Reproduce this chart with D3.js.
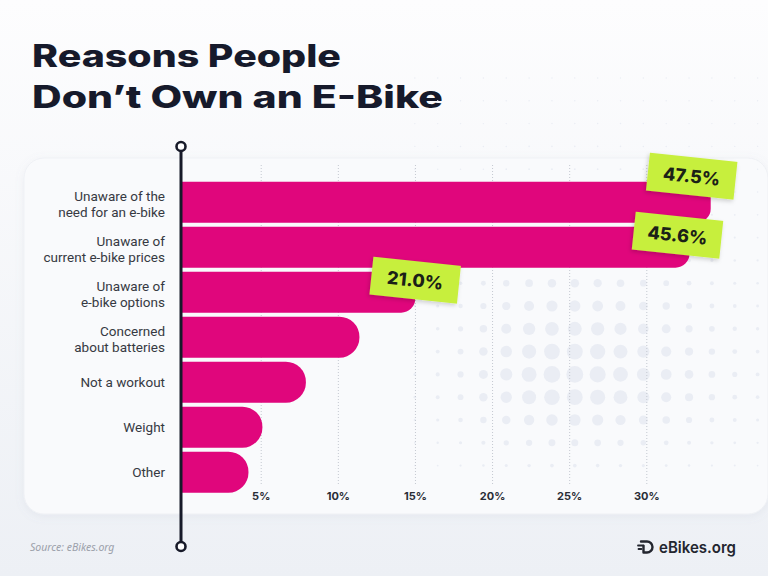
<!DOCTYPE html>
<html>
<head>
<meta charset="utf-8">
<script src="https://cdn.jsdelivr.net/npm/d3@7"></script>
<style>
html, body { margin: 0; padding: 0; background: #fff; }
svg { display: block; }
</style>
</head>
<body>
<div id="chart"></div>
<script>

// Survey answers, top to bottom
const reasons = [
    ["Unaware of the", "need for an e-bike"],
    ["Unaware of", "current e-bike prices"],
    ["Unaware of", "e-bike options"],
    ["Concerned", "about batteries"],
    ["Not a workout"],
    ["Weight"],
    ["Other"]
];
const shares = [47.5, 45.6, 21.0, 16.0, 11.2, 7.3, 6.05];
const labelledCount = 3;

// the grid in the original doesn't match the labelled values, it has its own scale
const gridTicks = [5, 10, 15, 20, 25, 30];

const title = ["Reasons People", "Don\u2019t Own an E-Bike"];
const source = "Source: eBikes.org";


const W = 768, H = 576;

const svg = d3.select("#chart")
    .append("svg")
    .attr("width", W)
    .attr("height", H);

const defs = svg.append("defs");

const bg = defs.append("linearGradient")
    .attr("id", "bg")
    .attr("x1", 0).attr("y1", 0).attr("x2", 0).attr("y2", 1);
bg.append("stop").attr("offset", "0%").attr("stop-color", "#fdfdfe");
bg.append("stop").attr("offset", "100%").attr("stop-color", "#edf0f5");

const shadow = defs.append("filter")
    .attr("id", "shadow")
    .attr("x", "-20%").attr("y", "-20%").attr("width", "140%").attr("height", "160%");
shadow.append("feDropShadow")
    .attr("dx", -1).attr("dy", 2).attr("stdDeviation", 2)
    .attr("flood-color", "#000").attr("flood-opacity", 0.18);

const panelShadow = defs.append("filter")
    .attr("id", "panelShadow")
    .attr("x", "-10%").attr("y", "-10%").attr("width", "120%").attr("height", "130%");
panelShadow.append("feDropShadow")
    .attr("dx", 0).attr("dy", 2).attr("stdDeviation", 4)
    .attr("flood-color", "#8890a8").attr("flood-opacity", 0.10);

svg.append("rect")
    .attr("width", W).attr("height", H)
    .attr("fill", "url(#bg)");

// Title
svg.append("g")
    .selectAll("text")
    .data(title)
    .enter()
    .append("text")
    .attr("x", 32)
    .attr("y", (d, i) => 67 + i * 40.5)
    .attr("textLength", (d, i) => i === 0 ? 309 : 411)
    .attr("lengthAdjust", "spacingAndGlyphs")
    .style("font-family", "Inter, 'Noto Sans', sans-serif")
    .style("font-weight", 800)
    .style("font-size", "31px")
    .style("fill", "#161a2b")
    .text(d => d);

// Panel behind the bars
svg.append("rect")
    .attr("x", 24).attr("y", 158)
    .attr("width", 744).attr("height", 356)
    .attr("rx", 20)
    .attr("fill", "#f9fafc")
    .attr("stroke", "#eff1f5")
    .attr("filter", "url(#panelShadow)");

// halftone dots decoration
const dots = [];
const dcx = 565, dcy = 380;
for (let k = -1; k < 15; k++) {
    for (let j = -10; j < 8; j++) {
        const x = 437.7 + k * 22.85;
        const y = 306 + j * 22.8;
        const nx = (x - dcx) / (x < dcx ? 68 : 100);
        const ny = (y - dcy) / (y < dcy ? 78 : 44);
        const r = 0.7 + 7.8 * Math.exp(-(nx * nx + ny * ny) / 2);
        dots.push({x, y, r});
    }
}
svg.append("g")
    .selectAll("circle")
    .data(dots)
    .enter()
    .append("circle")
    .attr("cx", d => d.x)
    .attr("cy", d => d.y)
    .attr("r", d => d.r)
    .attr("fill", "#eaedf4");

// Scales
const x0 = 181;
const x = d3.scaleLinear()
    .domain([0, 47.5])
    .range([x0, 710.7]);

const gridScale = d3.scaleLinear()
    .domain([0, 30])
    .range([183.6, 646.3]);

const y = d3.scaleBand()
    .domain(d3.range(shares.length))
    .range([181.7, 492.7])
    .paddingInner(0.089)
    .paddingOuter(0);

// grid + tick labels
const axisY = 484;
const xAxis = svg.append("g")
    .attr("transform", `translate(0, ${axisY})`)
    .call(d3.axisBottom(gridScale)
        .tickValues(gridTicks)
        .tickFormat(d => d + "%")
        .tickSize(-(axisY - 165))
        .tickPadding(8));

xAxis.select(".domain").remove();
xAxis.selectAll(".tick line")
    .attr("stroke", "#c4c8d0")
    .attr("stroke-width", 1)
    .attr("stroke-dasharray", "1,2");
xAxis.selectAll("text")
    .style("font-family", "Inter, 'Noto Sans', sans-serif")
    .style("font-weight", 700)
    .style("font-size", "11px")
    .style("fill", "#2a2d36");

// Bars: square left, rounded right end
const barPath = (xs, ys, w, h, r) => {
    r = Math.min(r, h / 2, w);
    return `M${xs},${ys}H${xs + w - r}A${r},${r} 0 0 1 ${xs + w},${ys + r}` +
        `V${ys + h - r}A${r},${r} 0 0 1 ${xs + w - r},${ys + h}H${xs}Z`;
};

svg.append("g")
    .selectAll("path")
    .data(shares)
    .enter()
    .append("path")
    .attr("d", (d, i) => barPath(x0, y(i), x(d) - x0, y.bandwidth(), i < 3 ? 14 : 20))
    .attr("fill", "#e0067c");

// category labels
const labels = svg.append("g")
    .selectAll("text")
    .data(reasons)
    .enter()
    .append("text")
    .attr("text-anchor", "end")
    .style("font-family", "Roboto, 'Noto Sans', sans-serif")
    .style("font-size", "13.5px")
    .style("fill", "#363942");

labels.each(function(lines, i) {
    const mid = y(i) + y.bandwidth() / 2;
    const first = lines.length === 1 ? mid + 5 : mid - 1.5;
    d3.select(this).selectAll("tspan")
        .data(lines)
        .enter()
        .append("tspan")
        .attr("x", 165)
        .attr("y", (l, k) => first + k * 16)
        .text(l => l);
});

// value tags on the top three bars
const tagShift = [[-19, -26], [-12, -12], [0, -12]];
const tags = svg.append("g")
    .selectAll("g")
    .data(shares.slice(0, labelledCount))
    .enter()
    .append("g")
    .attr("transform", (d, i) => {
        const cx = x(d) + tagShift[i][0];
        const cy = y(i) + y.bandwidth() / 2 + tagShift[i][1];
        return `translate(${cx}, ${cy}) rotate(6)`;
    });

tags.append("rect")
    .attr("x", -44).attr("y", -19)
    .attr("width", 88).attr("height", 38)
    .attr("fill", "#c7ef3c")
    .attr("filter", "url(#shadow)");

tags.append("text")
    .attr("text-anchor", "middle")
    .attr("dy", "0.36em")
    .style("font-family", "Inter, 'Noto Sans', sans-serif")
    .style("font-weight", 800)
    .style("font-size", "18px")
    .style("fill", "#1b2117")
    .text(d => d3.format(".1f")(d) + "%");

// vertical baseline with end caps
svg.append("line")
    .attr("x1", x0).attr("x2", x0)
    .attr("y1", 151).attr("y2", 542)
    .attr("stroke", "#171a29")
    .attr("stroke-width", 3);

svg.selectAll(".cap")
    .data([146.5, 546.5])
    .enter()
    .append("circle")
    .attr("class", "cap")
    .attr("cx", x0)
    .attr("cy", d => d)
    .attr("r", 4.5)
    .attr("fill", "#fff")
    .attr("stroke", "#171a29")
    .attr("stroke-width", 2.6);

// footer
svg.append("text")
    .attr("x", 30)
    .attr("y", 551)
    .style("font-family", "'Noto Sans', sans-serif")
    .style("font-style", "italic")
    .style("font-size", "10.5px")
    .style("fill", "#9ba0aa")
    .text(source);

const logo = svg.append("g").attr("transform", "translate(637, 540)");
logo.append("path")
    .attr("d", "M4,1.5H10A5.5,5.5 0 0 1 10,12.5H6.5V6")
    .attr("fill", "none")
    .attr("stroke", "#23262f")
    .attr("stroke-width", 2.4)
    .attr("stroke-linecap", "round")
    .attr("stroke-linejoin", "round");
logo.append("path")
    .attr("d", "M1,5.5H6.5M1.5,9H4.5")
    .attr("stroke", "#23262f")
    .attr("stroke-width", 1.8)
    .attr("stroke-linecap", "round");
logo.append("text")
    .attr("x", 22)
    .attr("y", 12.5)
    .attr("textLength", 77)
    .attr("lengthAdjust", "spacingAndGlyphs")
    .style("font-family", "Inter, 'Noto Sans', sans-serif")
    .style("font-weight", 600)
    .style("font-size", "16px")
    .style("fill", "#23262f")
    .text("eBikes.org");

</script>
</body>
</html>
